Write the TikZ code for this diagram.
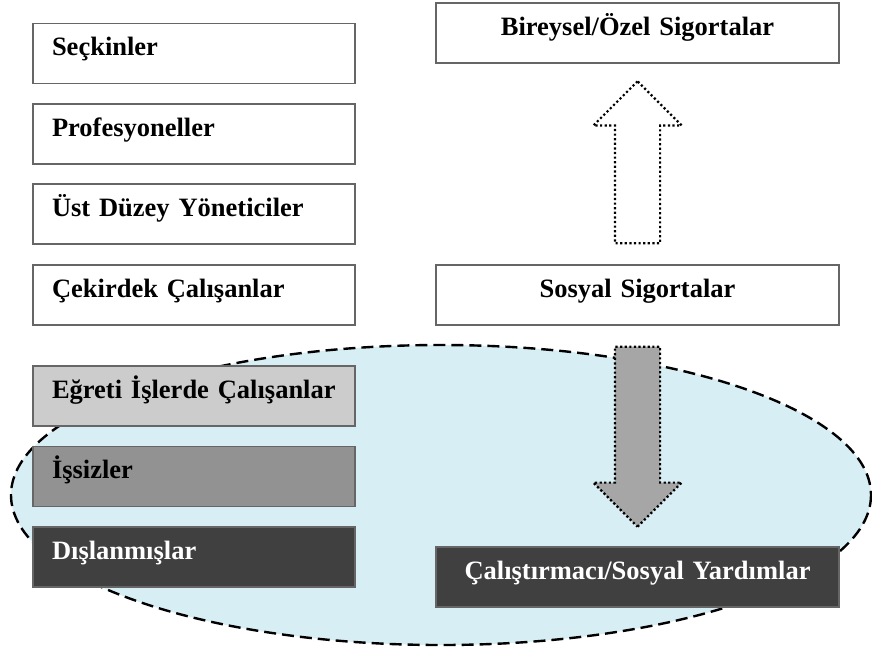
\documentclass[tikz,border=0pt]{standalone}
\usepackage{fontspec}
\setmainfont{Liberation Serif}
\usetikzlibrary{positioning,shapes.arrows}

\definecolor{ovalblue}{HTML}{D7EEF4}
\definecolor{lightgrey}{HTML}{CCCCCC}
\definecolor{midgrey}{HTML}{929292}
\definecolor{darkgrey}{HTML}{404040}
\definecolor{arrowgrey}{HTML}{A6A6A6}

\begin{document}
\begin{tikzpicture}[x=1pt,y=-1pt,
	box/.style={draw=black!60,
		line width=1.2pt,
		minimum width=322pt,
		minimum height=60pt,
		inner sep=0pt,
		text width=284pt,
		align=left,
		text height=20pt,
		text depth=16pt,
		font=\fontsize{26.5}{30}\selectfont\bfseries},
	widebox/.style={box,minimum width=403pt,text width=380pt,align=center},
	blockarrow/.style={single arrow,
		draw=black,
		line width=2.2pt,
		dash pattern=on 2.2pt off 2.4pt,
		minimum width=86pt,
		text height=43pt,
		text depth=0pt,
		single arrow head extend=21.5pt,
		inner sep=0pt,
		anchor=tail},
]
\useasboundingbox (0,0) rectangle (872,649);

%Oval
\draw[fill=ovalblue,line width=2.4pt,dash pattern=on 12pt off 6pt]
	(441,495) ellipse [x radius=430,y radius=150];

%Left column
\node [box]  (seckin)at (194,53.5) {Seçkinler};
\node [box]  (prof)at (194,134) {Profesyoneller};
\node [box]  (ust)at (194,214) {Üst Düzey Yöneticiler};
\node [box]  (cekirdek)at (194,295) {Çekirdek Çalışanlar};

\node [box,fill=lightgrey]  (egreti)at (194,396) {Eğreti İşlerde Çalışanlar};
\node [box,fill=midgrey]  (issiz)at (194,476.5) {İşsizler};
\node [box,fill=darkgrey,text=white]  (dislan)at (194,557) {Dışlanmışlar};


%Right column
\node [widebox,fill=white]  (bireysel)at (637.5,33) {Bireysel/Özel Sigortalar};
\node [widebox,fill=white]  (sosyal)at (637.5,295) {Sosyal Sigortalar};
\node [widebox,fill=darkgrey,text=white]  (calis)at (637.5,577) {Çalıştırmacı/Sosyal Yardımlar};


%Arrows
\node (up) [blockarrow,fill=white,minimum height=162pt,rotate=90,
	above=20pt of sosyal.north,anchor=tail] {};
\node (down) [blockarrow,fill=arrowgrey,minimum height=180pt,rotate=-90,
	below=20pt of sosyal.south,anchor=tail] {};

\end{tikzpicture}
\end{document}
